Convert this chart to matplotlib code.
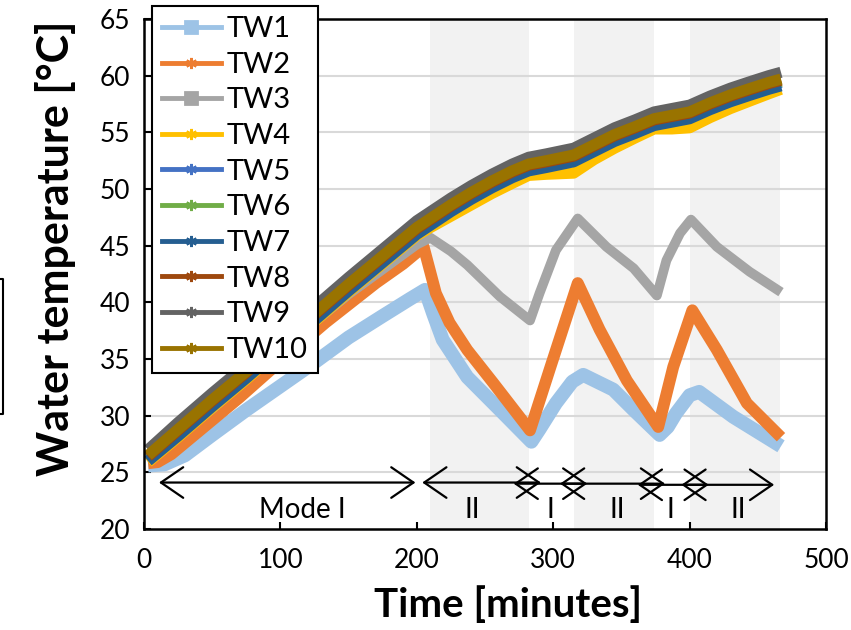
import matplotlib
matplotlib.use("Agg")
from matplotlib import pyplot as plt
from matplotlib.lines import Line2D
from matplotlib.patches import FancyArrowPatch

plt.rcParams['font.family'] = ['Lato', 'DejaVu Sans']

# upper group (TW4..TW10)
t_band = [3, 25, 50, 75, 100, 125, 150, 175, 200, 210, 225, 240, 255, 270, 282,
          295, 315, 330, 345, 360, 374, 387, 400, 415, 430, 445, 458, 467]
tw10 = [26.5, 28.8, 31.4, 33.9, 36.5, 39.0, 41.6, 44.1, 46.6, 47.4, 48.6, 49.7, 50.7, 51.6, 52.2,
        52.5, 53.0, 53.9, 54.8, 55.5, 56.2, 56.5, 56.8, 57.6, 58.3, 58.9, 59.4, 59.7]
tw9 = [27.0, 29.4, 32.0, 34.5, 37.1, 39.6, 42.2, 44.7, 47.2, 48.0, 49.2, 50.3, 51.3, 52.2, 52.8,
       53.1, 53.6, 54.5, 55.4, 56.1, 56.8, 57.1, 57.4, 58.2, 58.9, 59.5, 60.0, 60.3]
tw8 = [26.4, 28.7, 31.3, 33.8, 36.4, 38.9, 41.5, 44.0, 46.5, 47.3, 48.5, 49.6, 50.6, 51.5, 52.1,
       52.4, 52.9, 53.8, 54.7, 55.4, 56.1, 56.4, 56.7, 57.5, 58.2, 58.8, 59.3, 59.6]
tw7 = [26.0, 28.2, 30.8, 33.3, 35.9, 38.4, 41.0, 43.5, 46.0, 46.8, 48.0, 49.1, 50.1, 51.0, 51.6,
       51.9, 52.4, 53.3, 54.2, 54.9, 55.6, 55.9, 56.2, 57.0, 57.7, 58.3, 58.8, 59.1]
tw6 = [26.3, 28.6, 31.2, 33.7, 36.3, 38.8, 41.4, 43.9, 46.4, 47.2, 48.4, 49.5, 50.5, 51.4, 52.0,
       52.3, 52.8, 53.7, 54.6, 55.3, 56.0, 56.3, 56.6, 57.4, 58.1, 58.7, 59.2, 59.5]
tw5 = [26.2, 28.5, 31.1, 33.6, 36.2, 38.7, 41.3, 43.8, 46.3, 47.1, 48.3, 49.4, 50.4, 51.3, 51.9,
       52.2, 52.7, 53.6, 54.5, 55.2, 55.9, 56.2, 56.5, 57.3, 58.0, 58.6, 59.1, 59.4]
tw4 = [25.9, 28.1, 30.7, 33.2, 35.8, 38.3, 40.9, 43.4, 45.9, 46.6, 47.6, 48.6, 49.6, 50.5, 51.2,
       51.3, 51.4, 52.6, 53.6, 54.5, 55.3, 55.3, 55.4, 56.3, 57.1, 57.8, 58.4, 58.8]

t3 = [3, 50, 100, 150, 200, 210, 225, 237, 261, 283, 290, 302, 318, 339, 359, 376,
      383, 393, 401, 420, 444, 467]
tw3 = [26.1, 30.6, 35.8, 40.7, 45.1, 45.7, 44.5, 43.3, 40.5, 38.4, 40.8, 44.6, 47.4, 44.9, 43.0, 40.6,
       43.7, 46.1, 47.3, 44.9, 42.7, 40.9]

t2 = [3, 10, 20, 40, 70, 100, 133, 170, 190, 205, 214, 224, 237, 256, 283,
      298, 318, 334, 354, 377, 388, 402, 420, 442, 467]
tw2 = [25.8, 25.9, 26.6, 28.6, 31.6, 34.8, 38.2, 41.7, 43.4, 44.9, 40.8, 38.2, 35.8, 32.9, 28.7,
       34.3, 41.7, 37.6, 33.1, 29.0, 34.3, 39.3, 35.8, 31.1, 28.1]

t1 = [3, 15, 30, 50, 75, 100, 125, 150, 175, 195, 206, 212, 219, 237, 261, 284,
      290, 302, 314, 322, 344, 359, 378, 384, 390, 400, 407, 432, 467]
tw1 = [25.6, 25.7, 26.5, 28.3, 30.5, 32.6, 34.7, 36.9, 38.8, 40.3, 41.1, 39.0, 36.7, 33.4, 30.5, 27.7,
       28.8, 31.1, 33.0, 33.6, 32.3, 30.5, 28.3, 29.0, 30.2, 31.8, 32.1, 29.9, 27.3]

names = ["TW1", "TW2", "TW3", "TW4", "TW5", "TW6", "TW7", "TW8", "TW9", "TW10"]
colors = ["#9DC3E6", "#ED7D31", "#A5A5A5", "#FFC000", "#4472C4",
          "#70AD47", "#255E91", "#9E480E", "#636363", "#997300"]
markers = ["s", (6, 2, 0), "s"] + [(6, 2, 0)] * 7

# shaded mode II periods and mode arrows
mode2_spans = [(210, 282), (315, 374), (400, 466)]
arrow_spans = [(11, 199), (204, 291), (271, 325), (305, 382), (362, 414), (394, 462)]
arrow_y = [24.1, 24.1, 24.0, 24.0, 23.9, 23.9]
mode_labels = ["Mode I", "II", "I", "II", "I", "II"]
mode_label_x = [116, 241, 298, 347, 386, 436]


def main():
    fig = plt.figure(figsize=(8.51, 6.30), dpi=100)
    ax = fig.add_axes([144 / 851, 1 - 529 / 630, 682 / 851, 510 / 630])

    for a, b in mode2_spans:
        ax.axvspan(a, b, color="#F2F2F2", lw=0, zorder=0)

    for y in range(25, 65, 5):
        ax.axhline(y, color="#D9D9D9", lw=1.5, zorder=0.5)

    series = [(t1, tw1), (t2, tw2), (t3, tw3)] + [(t_band, s) for s in
                                                  (tw4, tw5, tw6, tw7, tw8, tw9, tw10)]
    widths = [10, 8.5, 7, 8, 8, 8, 8, 8, 8, 8]
    for (t, v), c, w in zip(series, colors, widths):
        ax.plot(t, v, color=c, lw=w, solid_capstyle="butt", solid_joinstyle="round", zorder=2)

    for (a, b), y in zip(arrow_spans, arrow_y):
        ax.add_patch(FancyArrowPatch((a, y), (b, y), arrowstyle="<->,head_length=0.8,head_width=0.55",
                                     mutation_scale=20, lw=1.6, color="black",
                                     shrinkA=0, shrinkB=0, zorder=3))
    for x, s in zip(mode_label_x, mode_labels):
        ax.text(x, 21.7, s, ha="center", va="center", fontsize=20, zorder=3)

    ax.set_xlim(0, 500)
    ax.set_ylim(20, 65)
    ax.set_xticks(range(0, 501, 100))
    ax.set_yticks(range(20, 66, 5))
    ax.tick_params(direction="in", length=5, width=1.5, labelsize=19, top=False, right=False)
    ax.tick_params(axis="x", pad=14)
    ax.tick_params(axis="y", pad=10)
    for sp in ax.spines.values():
        sp.set_linewidth(1.8)
        sp.set_zorder(4)

    fig.text(508 / 851, 1 - 605 / 630, "Time [minutes]", ha="center", va="center",
             fontsize=29, fontweight="bold")
    fig.text(56 / 851, 1 - 248 / 630, "Water temperature [°C]", ha="center", va="center",
             rotation=90, fontsize=31, fontweight="bold")

    handles = [Line2D([], [], color=c, lw=3.5, marker=m, ms=8, mew=2, mec=c, mfc=c)
               for c, m in zip(colors, markers)]
    leg = fig.legend(handles, names, loc="upper left", bbox_to_anchor=(152 / 851, 1 - 6 / 630),
                     fontsize=21, frameon=True, fancybox=False, framealpha=1,
                     edgecolor="black", borderpad=0.35, handlelength=2.0, handletextpad=0.2,
                     labelspacing=0.33, borderaxespad=0)
    leg.get_frame().set_linewidth(1.5)
    leg.set_zorder(10)

    # stray box edge at the far left of the original picture
    fig.add_artist(Line2D([0, 3 / 851, 3 / 851, 0], [1 - 279 / 630, 1 - 279 / 630, 1 - 414 / 630, 1 - 414 / 630],
                          color="black", lw=1.5))

    fig.savefig("out.png", dpi=100)
    plt.close(fig)


if __name__ == "__main__":
    main()
